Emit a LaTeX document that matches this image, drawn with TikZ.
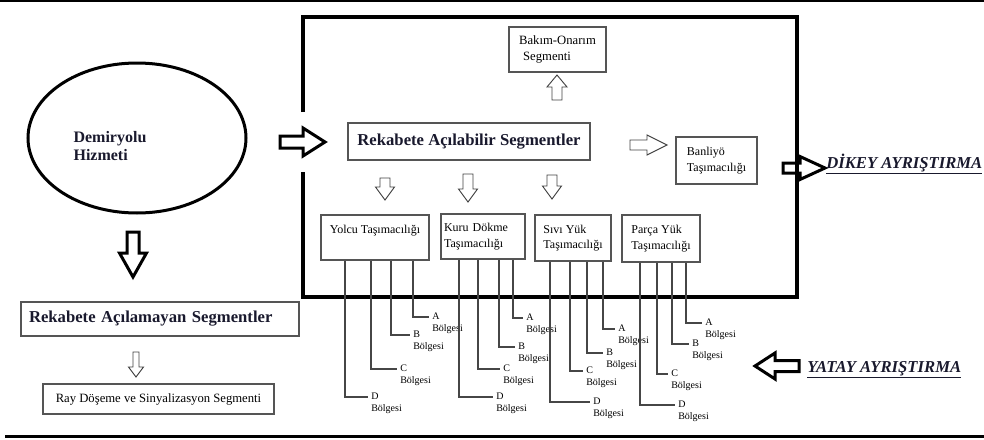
\documentclass[tikz,border=0pt]{standalone}
\usepackage{fontspec}
\setmainfont{Liberation Serif}
\usetikzlibrary{shapes.geometric}

\tikzset{
  pics/blokok/.style n args={4}{code={
    \path[pic actions] (0,-#2) -- (#1-#4,-#2) -- (#1-#4,-#3) -- (#1,0)
      -- (#1-#4,#3) -- (#1-#4,#2) -- (0,#2) -- cycle;
  }}
}

\begin{document}
\begin{tikzpicture}[x=0.75pt, y=-0.75pt,
  kutu/.style={draw=kutugri, line width=0.8pt, font=\fontsize{9}{11.5}\selectfont, align=left, inner sep=0pt},
  baslik/.style={kutu, font=\fontsize{12.5}{14}\selectfont\bfseries, text=koyu},
  kalin/.style={draw=black, line width=2.25pt, line join=miter},
  ince/.style={draw=okgri, line width=0.7pt, line join=miter},
  kol/.style={draw=kolgri, line width=0.8pt},
  bolge/.style={font=\fontsize{7.5}{9}\selectfont, text width=24pt, align=left, inner ysep=0pt, inner xsep=2.25pt},
  ayristirma/.style={font=\fontsize{12.5}{14}\selectfont\bfseries\itshape, text=koyu, inner sep=0pt}]

% === Colors ===
\definecolor{koyu}{RGB}{25,25,45}
\definecolor{kutugri}{RGB}{85,85,85}
\definecolor{kolgri}{RGB}{70,70,70}
\definecolor{okgri}{RGB}{65,65,65}

\useasboundingbox (0,0) rectangle (984,439);

% === Frame lines ===
\draw[line width=1.5pt] (0,1) -- (984,1);
\draw[line width=2.25pt] (5,436) -- (984,436);

% === Outer box (competitive part) ===
\draw[line width=3pt] (303,112) -- (303,17) -- (797,17) -- (797,297) -- (303,297) -- (303,172);

% === Rail service ===
\node[ellipse, draw, line width=2.25pt, minimum width=163.5pt, minimum height=112.5pt] (hizmet) at (137,138) {};
\node[font=\fontsize{12}{13.5}\selectfont\bfseries, text=koyu, align=left] (hizmetyazi) at (110,146) {Demiryolu\\Hizmeti};

% === Competitive segments ===
\node[baslik, minimum width=181.5pt, minimum height=27.75pt] (rekabet) at (469,141.5) {Rekabete Açılabilir Segmentler};
\node[kutu, minimum width=72.75pt, minimum height=33.75pt, font=\fontsize{9.5}{11.5}\selectfont] (bakim) at (557.5,49.5) {Bakım-Onarım\\\hspace*{3pt}Segmenti};
\node[kutu, minimum width=60.75pt, minimum height=35.25pt] (banliyo) at (716.5,160.5) {Banliyö\\Taşımacılığı};
\node[kutu, minimum width=81pt, minimum height=33.75pt, text height=13.5pt, text depth=20.25pt] (yolcu) at (375,237.5) {Yolcu Taşımacılığı};
\node[kutu, minimum height=33.75pt, text width=58.5pt, inner xsep=2.25pt] (kuru) at (483,236.5) {Kuru Dökme\\Taşımacılığı};
\node[kutu, minimum width=57pt, minimum height=34.5pt] (sivi) at (573,238) {Sıvı Yük\\Taşımacılığı};
\node[kutu, minimum width=58.5pt, minimum height=35.25pt] (parca) at (661,238.5) {Parça Yük\\Taşımacılığı};

% === Non-competitive segments ===
\node[baslik, minimum height=25.5pt, text width=196.5pt, inner xsep=6pt] (rekabetdisi) at (160,319) {Rekabete Açılamayan Segmentler};
\node[kutu, minimum width=173.25pt, minimum height=22.5pt, font=\fontsize{9.5}{11}\selectfont] (ray) at (158.5,399) {Ray Döşeme ve Sinyalizasyon Segmenti};

% === Block arrows ===
\pic[kalin] at (280,142) {blokok={45}{6}{14}{22}};
\pic[kalin, rotate=-90] at (133,232) {blokok={45}{6}{13.5}{24}};
\pic[kalin] at (783,168) {blokok={42}{5}{11.5}{25}};
\pic[kalin, rotate=180] at (799,366) {blokok={44}{5.5}{13}{20}};
\pic[ince, rotate=90] at (557,100) {blokok={25}{5}{10}{12}};
\pic[ince] at (630,145) {blokok={37}{5}{10}{20}};
\foreach \ox/\oy/\ol in {385/178/22, 468/174/28, 552/175/24}
  \pic[ince, rotate=-90] at (\ox,\oy) {blokok={\ol}{5}{9.5}{13}};
\pic[ince, rotate=-90] at (136,352) {blokok={25}{3}{7.5}{10}};

% === Separation labels ===
\node[ayristirma, anchor=base west] (dikey) at (826,168) {\underline{DİKEY AYRIŞTIRMA}};
\node[ayristirma, anchor=base west] (yatay) at (807,372) {\underline{YATAY AYRIŞTIRMA}};

% === Regions A-D of each segment ===
\foreach \seg/\zone/\vx/\hy/\ex in {
  yolcu/A/413/317/429, yolcu/B/391/335/410, yolcu/C/371/369/397, yolcu/D/345/397/368,
  kuru/A/513/318/523, kuru/B/499/347/515, kuru/C/478/369/500, kuru/D/459/397/493,
  sivi/A/603/329/615, sivi/B/587/353/603, sivi/C/570/371/583, sivi/D/550/402/590,
  parca/A/686/323/702, parca/B/672/344/689, parca/C/657/374/668, parca/D/640/405/675
}{
  \node[bolge, anchor=base west] (\seg\zone) at (\ex,\hy+2) {\zone\\Bölgesi};
  \draw[kol] (\vx,0 |- \seg.south) |- ([yshift=1.5pt]\seg\zone.base west);
}

\end{tikzpicture}
\end{document}
